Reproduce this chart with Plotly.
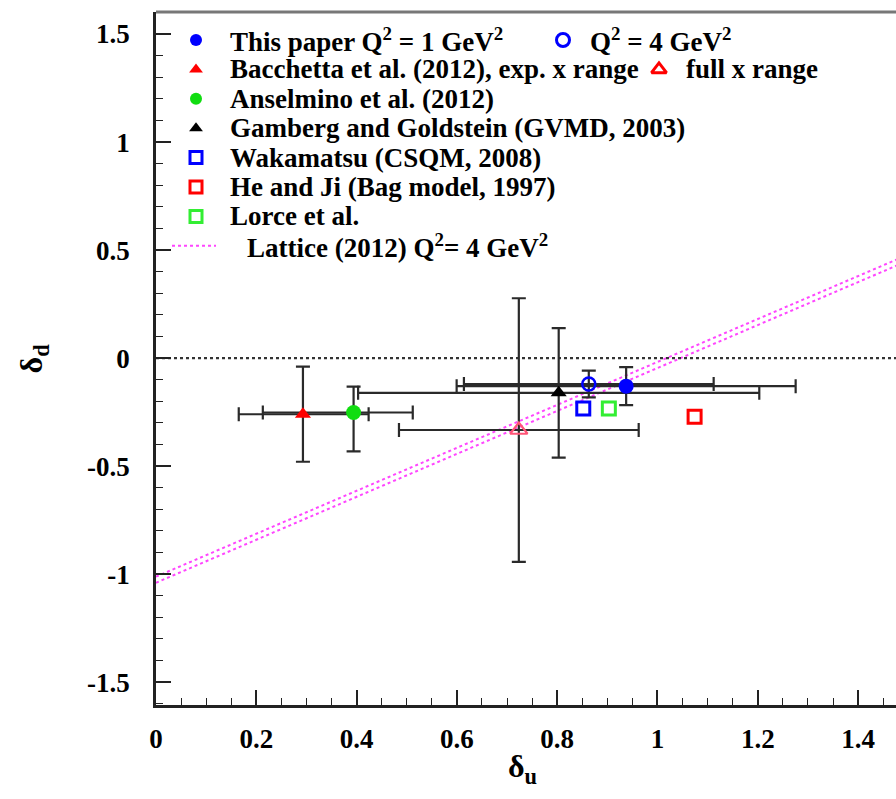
import plotly.graph_objects as go

FONT = "'Liberation Serif', 'Times New Roman', Times, serif"

# ---------------- data (delta_u, delta_d) ----------------
paper_q1_u = [0.9375]
paper_q1_d = [-0.130]
paper_q1_err_u = [0.338]
paper_q1_err_d = [0.088]

paper_q4_u = [0.863]
paper_q4_d = [-0.120]
paper_q4_err_u = [0.249]
paper_q4_err_d = [0.062]

bacch_exp_u = [0.293]
bacch_exp_d = [-0.260]
bacch_exp_err_u_minus = [0.128]
bacch_exp_err_u_plus = [0.131]
bacch_exp_err_d = [0.22]

bacch_full_u = [0.7235]
bacch_full_d = [-0.333]
bacch_full_err_u = [0.239]
bacch_full_err_d = [0.61]

ansel_u = [0.394]
ansel_d = [-0.252]
ansel_err_u_minus = [0.181]
ansel_err_u_plus = [0.118]
ansel_err_d_plus = [0.12]
ansel_err_d_minus = [0.18]

gamberg_u = [0.803]
gamberg_d = [-0.161]
gamberg_err_u = [0.40]
gamberg_err_d = [0.30]

wakamatsu_u = [0.852]
wakamatsu_d = [-0.233]
heji_u = [1.074]
heji_d = [-0.272]
lorce_u = [0.903]
lorce_d = [-0.233]

lattice_u = [0.0, 1.5]
lattice_d_upper = [-1.012, 0.479]
lattice_d_lower = [-1.040, 0.451]

zero_u = [0.0, 1.5]
zero_d = [0.0, 0.0]

x_tick_vals = [0, 0.2, 0.4, 0.6, 0.8, 1.0, 1.2, 1.4]
x_tick_text = ["0", "0.2", "0.4", "0.6", "0.8", "1", "1.2", "1.4"]
y_tick_vals = [-1.5, -1.0, -0.5, 0, 0.5, 1.0, 1.5]
y_tick_text = ["-1.5", "-1", "-0.5", "0", "0.5", "1", "1.5"]

legend_labels = [
    "This paper Q<sup>2</sup> = 1 GeV<sup>2</sup>",
    "Bacchetta et al. (2012), exp. x range",
    "Anselmino et al. (2012)",
    "Gamberg and Goldstein (GVMD, 2003)",
    "Wakamatsu (CSQM, 2008)",
    "He and Ji (Bag model, 1997)",
    "Lorce et al.",
    "Lattice (2012) Q<sup>2</sup>= 4 GeV<sup>2</sup>",
]
legend_symbols = ["circle", "triangle-up", "circle", "triangle-up",
                  "square-open", "square-open", "square-open", None]
legend_colors = ["#0000ff", "#ff0000", "#11dd11", "#000000",
                 "#0000ff", "#ff0000", "#33ee33", "#ff44ff"]
legend2_labels = ["Q<sup>2</sup> = 4 GeV<sup>2</sup>", "full x range"]
legend2_symbols = ["circle-open", "triangle-up-open"]
legend2_colors = ["#0000ff", "#ff0000"]

# ---------------- style ----------------
ERR_COLOR = "#2a2a2a"
ERR_W = 2.2
CAP = 7

fig = go.Figure()

# lattice band (two dotted lines)
for yd in (lattice_d_upper, lattice_d_lower):
    fig.add_trace(go.Scatter(x=lattice_u, y=yd, mode="lines",
                             line=dict(color="rgba(255,50,255,0.9)", width=2, dash="dot"),
                             showlegend=False, hoverinfo="skip"))

# zero line
fig.add_trace(go.Scatter(x=zero_u, y=zero_d, mode="lines",
                         line=dict(color="#333333", width=2.2, dash="dot"),
                         showlegend=False, hoverinfo="skip"))


def err_trace(x, y, ex_plus, ex_minus, ey_plus, ey_minus):
    return go.Scatter(
        x=x, y=y, mode="markers", marker=dict(size=1, opacity=0),
        error_x=dict(type="data", symmetric=False, array=ex_plus, arrayminus=ex_minus,
                     color=ERR_COLOR, thickness=ERR_W, width=CAP),
        error_y=dict(type="data", symmetric=False, array=ey_plus, arrayminus=ey_minus,
                     color=ERR_COLOR, thickness=ERR_W, width=CAP),
        showlegend=False, hoverinfo="skip")


fig.add_trace(err_trace(bacch_full_u, bacch_full_d, bacch_full_err_u, bacch_full_err_u,
                        bacch_full_err_d, bacch_full_err_d))
fig.add_trace(err_trace(gamberg_u, gamberg_d, gamberg_err_u, gamberg_err_u,
                        gamberg_err_d, gamberg_err_d))
fig.add_trace(err_trace(bacch_exp_u, bacch_exp_d, bacch_exp_err_u_plus, bacch_exp_err_u_minus,
                        bacch_exp_err_d, bacch_exp_err_d))
fig.add_trace(err_trace(ansel_u, ansel_d, ansel_err_u_plus, ansel_err_u_minus,
                        ansel_err_d_plus, ansel_err_d_minus))
fig.add_trace(err_trace(paper_q1_u, paper_q1_d, paper_q1_err_u, paper_q1_err_u,
                        paper_q1_err_d, paper_q1_err_d))
fig.add_trace(err_trace(paper_q4_u, paper_q4_d, paper_q4_err_u, paper_q4_err_u,
                        paper_q4_err_d, paper_q4_err_d))


def mk(x, y, symbol, color, size, lw=0, fill=True):
    m = dict(symbol=symbol, size=size, color=color)
    if not fill:
        m["line"] = dict(color=color, width=lw)
    else:
        m["line"] = dict(width=0)
    return go.Scatter(x=x, y=y, mode="markers", marker=m, showlegend=False)


fig.add_trace(mk(bacch_full_u, bacch_full_d, "triangle-up-open", "#ff5577", 15, 2.2, False))
fig.add_trace(mk(gamberg_u, gamberg_d, "triangle-up", "#000000", 14))
fig.add_trace(mk(bacch_exp_u, bacch_exp_d, "triangle-up", "#ff0000", 14))
fig.add_trace(mk(ansel_u, ansel_d, "circle", "#11dd11", 15))
fig.add_trace(mk(paper_q4_u, paper_q4_d, "circle-open", "#0000ff", 13, 2.5, False))
fig.add_trace(mk(paper_q1_u, paper_q1_d, "circle", "#0000ff", 15))
fig.add_trace(mk(wakamatsu_u, wakamatsu_d, "square-open", "#0000ff", 13, 3, False))
fig.add_trace(mk(lorce_u, lorce_d, "square-open", "#33ee33", 13, 3, False))
fig.add_trace(mk(heji_u, heji_d, "square-open", "#ff0000", 13, 3, False))

# ---------------- legend drawn on a pixel-unit overlay axis ----------------
ROW0, ROW_STEP = 40, 29.4
MARK_X, TEXT_X = 196, 228
COL2_MARK_X = [563, 659]
COL2_TEXT_X = [588, 684]
leg_font = dict(family=FONT, size=27, color="black", weight="bold")

annotations = []
for i, (lab, sym, col) in enumerate(zip(legend_labels, legend_symbols, legend_colors)):
    yrow = ROW0 + ROW_STEP * i
    if sym is None:
        fig.add_trace(go.Scatter(x=[172, 216], y=[yrow, yrow], mode="lines",
                                 line=dict(color="rgba(255,50,255,0.9)", width=2, dash="dot"),
                                 xaxis="x2", yaxis="y2", showlegend=False, hoverinfo="skip"))
        tx = 245
    else:
        openm = sym.endswith("open")
        fig.add_trace(go.Scatter(
            x=[MARK_X], y=[yrow], mode="markers",
            marker=dict(symbol=sym, size=12, color=col,
                        line=dict(color=col, width=3 if openm else 0)),
            xaxis="x2", yaxis="y2", showlegend=False, hoverinfo="skip"))
        tx = TEXT_X
    annotations.append(dict(x=tx, y=yrow, xref="x2", yref="y2", text=lab,
                            showarrow=False, xanchor="left", yanchor="middle",
                            font=leg_font))

for j, (lab, sym, col) in enumerate(zip(legend2_labels, legend2_symbols, legend2_colors)):
    yrow = ROW0 + ROW_STEP * j
    fig.add_trace(go.Scatter(
        x=[COL2_MARK_X[j]], y=[yrow], mode="markers",
        marker=dict(symbol=sym, size=13, color=col, line=dict(color=col, width=3)),
        xaxis="x2", yaxis="y2", showlegend=False, hoverinfo="skip"))
    annotations.append(dict(x=COL2_TEXT_X[j], y=yrow, xref="x2", yref="y2", text=lab,
                            showarrow=False, xanchor="left", yanchor="middle",
                            font=leg_font))

# axis titles
annotations.append(dict(x=-0.165, y=0.5, xref="paper", yref="paper",
                        text="δ<sub>d</sub>", textangle=-90, showarrow=False,
                        xanchor="center", yanchor="middle",
                        font=dict(family=FONT, size=32, color="black", weight="bold")))
annotations.append(dict(x=0.495, y=-0.092, xref="paper", yref="paper",
                        text="δ<sub>u</sub>", showarrow=False,
                        xanchor="center", yanchor="middle",
                        font=dict(family=FONT, size=32, color="black", weight="bold")))

tick_font = dict(family=FONT, size=27, color="black", weight="bold")

fig.update_layout(
    width=896, height=799,
    margin=dict(l=156, r=0, t=12, b=94),
    paper_bgcolor="white", plot_bgcolor="white",
    showlegend=False,
    annotations=annotations,
    shapes=[dict(type="line", xref="paper", yref="paper", x0=0, x1=1, y0=1, y1=1,
                 line=dict(color="#777777", width=3))],
    xaxis=dict(range=[0, 1.4756], tickvals=x_tick_vals, ticktext=x_tick_text,
               ticks="inside", ticklen=15, tickwidth=1.5, tickcolor="#222",
               showline=True, linecolor="#222", linewidth=2.5,
               showgrid=False, zeroline=False, tickfont=tick_font,
               ticklabelstandoff=8,
               minor=dict(dtick=0.05, tick0=0, ticks="inside", ticklen=7,
                          tickwidth=1.2, tickcolor="#222", showgrid=False)),
    yaxis=dict(range=[-1.606, 1.602], tickvals=y_tick_vals, ticktext=y_tick_text,
               ticks="inside", ticklen=15, tickwidth=1.5, tickcolor="#222",
               showline=True, linecolor="#222", linewidth=2.5,
               showgrid=False, zeroline=False, tickfont=tick_font,
               ticklabelstandoff=18,
               minor=dict(dtick=0.1, tick0=0, ticks="inside", ticklen=7,
                          tickwidth=1.2, tickcolor="#222", showgrid=False)),
    xaxis2=dict(overlaying="x", anchor="y2", range=[156, 896], visible=False,
                fixedrange=True),
    yaxis2=dict(overlaying="y", anchor="x2", range=[705, 12], visible=False,
                fixedrange=True),
)

fig.write_html("out.html")
